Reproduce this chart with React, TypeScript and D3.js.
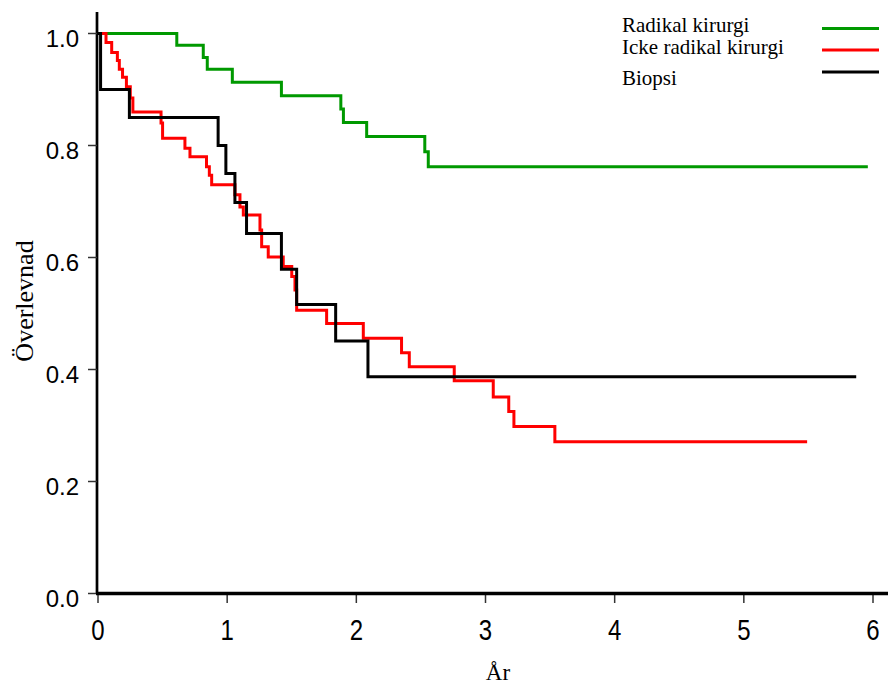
import React from 'react';
import * as d3 from 'd3';

// Kaplan-Meier estimates (time in years, survival)
const radikalTimes = [0, 0.61, 0.815, 0.846, 1.04, 1.42, 1.88, 1.9, 2.08, 2.53, 2.557, 5.96];
const radikalSurv = [1, 0.979, 0.957, 0.936, 0.913, 0.889, 0.865, 0.841, 0.816, 0.789, 0.762, 0.762];

const ickeTimes = [0, 0.062, 0.106, 0.15, 0.165, 0.19, 0.22, 0.25, 0.27, 0.488, 0.5, 0.673, 0.712, 0.84, 0.862, 0.88,
  1.06, 1.099, 1.125, 1.254, 1.267, 1.318, 1.434, 1.5, 1.525, 1.538, 1.77, 2.054, 2.35, 2.41, 2.758, 3.06, 3.18, 3.22, 3.537, 5.49];
const ickeSurv = [1, 0.984, 0.966, 0.952, 0.936, 0.922, 0.905, 0.885, 0.86, 0.84, 0.813, 0.795, 0.78, 0.762, 0.747, 0.73,
  0.712, 0.69, 0.676, 0.649, 0.619, 0.601, 0.584, 0.566, 0.542, 0.506, 0.482, 0.456, 0.43, 0.405, 0.38, 0.351, 0.325, 0.298, 0.271, 0.271];

const biopsiTimes = [0, 0.02, 0.243, 0.93, 0.99, 1.06, 1.15, 1.42, 1.538, 1.84, 2.09, 5.87];
const biopsiSurv = [1, 0.9, 0.85, 0.8, 0.75, 0.698, 0.643, 0.579, 0.516, 0.451, 0.387, 0.387];

const legendLabels = ['Radikal kirurgi', 'Icke radikal kirurgi', 'Biopsi'];
const legendColors = ['#009900', '#ff0000', '#000000'];

const xTicks = [0, 1, 2, 3, 4, 5, 6];
const yTicks = [0, 0.2, 0.4, 0.6, 0.8, 1.0];

const W = 888;
const H = 684;

export default function App() {
  const x = d3.scaleLinear().domain([0, 6]).range([98, 873]);
  const y = d3.scaleLinear().domain([0, 1]).range([593.5, 33.5]);

  const line = d3.line<[number, number]>()
    .x(d => x(d[0]))
    .y(d => y(d[1]))
    .curve(d3.curveStepAfter);

  const series = [
    { times: radikalTimes, surv: radikalSurv, color: legendColors[0] },
    { times: ickeTimes, surv: ickeSurv, color: legendColors[1] },
    { times: biopsiTimes, surv: biopsiSurv, color: legendColors[2] },
  ];

  const sans = '"Liberation Sans", Arial, sans-serif';
  const serif = '"Liberation Serif", "Times New Roman", serif';

  return (
    <svg width={W} height={H} style={{ position: 'absolute', left: 0, top: 0, background: '#fff' }}>
      {/* y axis */}
      <line x1={97} x2={97} y1={12} y2={594} stroke="#000" strokeWidth={2.7} />
      {yTicks.map(t => (
        <g key={t}>
          <line x1={88} x2={97} y1={y(t)} y2={y(t)} stroke="#333" strokeWidth={1.5} />
          <text x={79} y={y(t) + 13} textAnchor="end" fontFamily={sans} fontSize={24} fill="#000">
            {t.toFixed(1)}
          </text>
        </g>
      ))}

      {/* x axis */}
      {xTicks.map(t => (
        <g key={t}>
          <line x1={x(t)} x2={x(t)} y1={592} y2={603} stroke="#333" strokeWidth={1.5} />
          <text transform={`translate(${x(t)},640) scale(1,1.2)`} textAnchor="middle" fontFamily={sans} fontSize={24} fill="#000">
            {t}
          </text>
        </g>
      ))}
      <line x1={96} x2={W} y1={593.5} y2={593.5} stroke="#000" strokeWidth={3.5} />

      {/* curves */}
      {series.map((s, i) => (
        <path key={i}
          d={line(s.times.map((t, j) => [t, s.surv[j]] as [number, number])) || ''}
          fill="none" stroke={s.color} strokeWidth={3} />
      ))}

      {/* axis titles */}
      <text x={498} y={680} textAnchor="middle" fontFamily={serif} fontSize={23} fill="#000">År</text>
      <text transform="translate(33,301) rotate(-90)" textAnchor="middle" fontFamily={serif} fontSize={26} fill="#000">Överlevnad</text>

      {/* legend */}
      {legendLabels.map((lab, i) => {
        const ly = [28.5, 50, 72][i];
        const ty = [31.7, 54.3, 85][i];
        return (
          <g key={lab}>
            <text x={622} y={ty} fontFamily={serif} fontSize={21} fill="#000">{lab}</text>
            <line x1={822} x2={879} y1={ly} y2={ly} stroke={legendColors[i]} strokeWidth={3} />
          </g>
        );
      })}
    </svg>
  );
}
